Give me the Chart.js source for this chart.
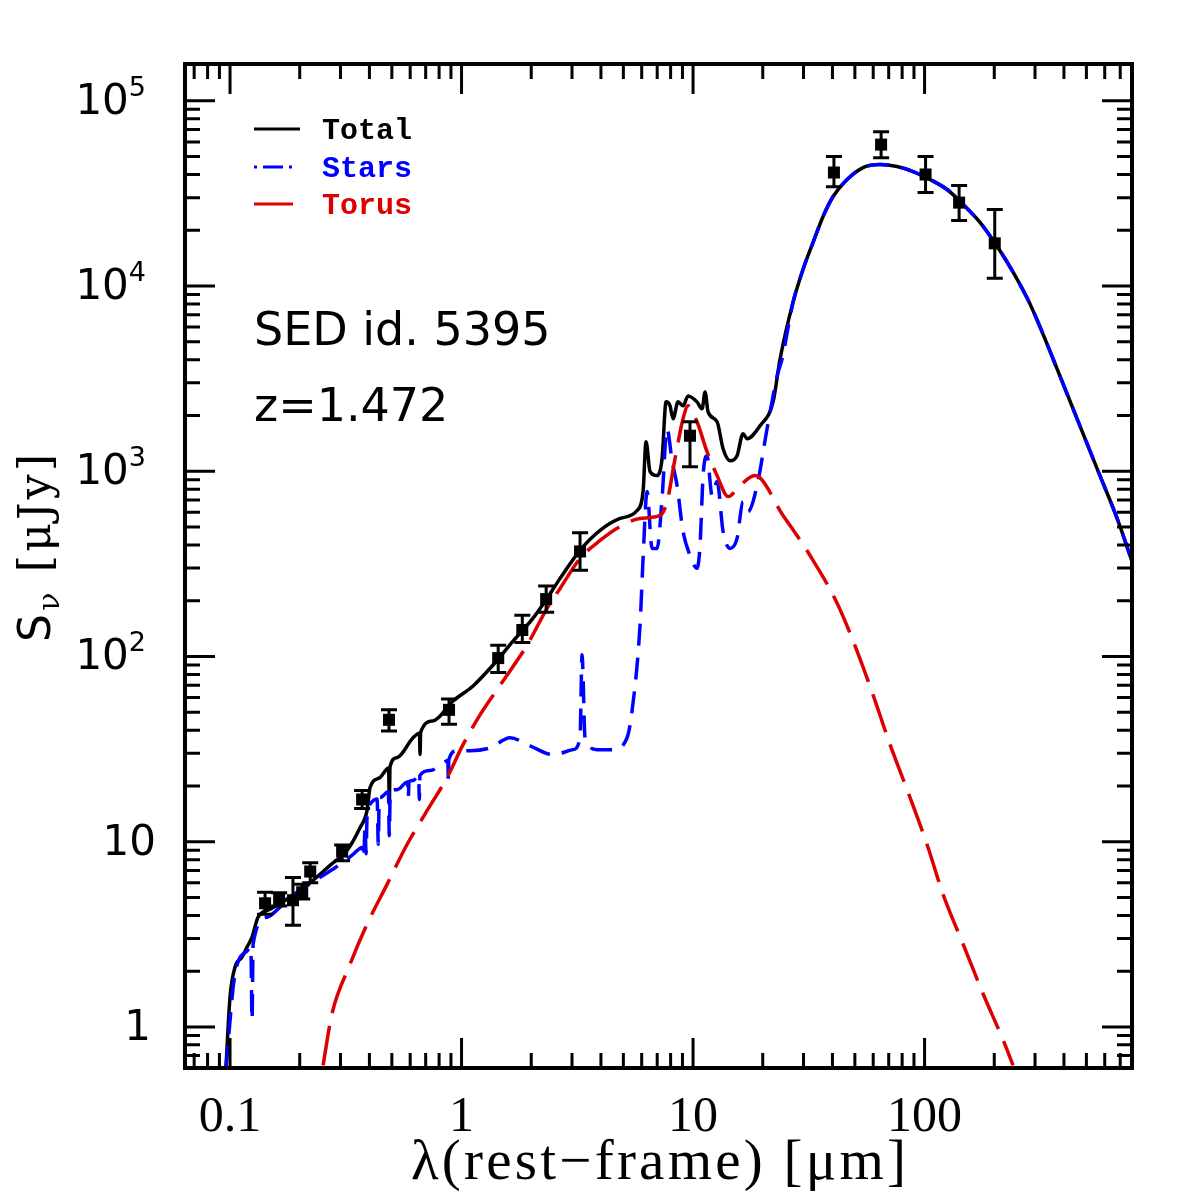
<!DOCTYPE html>
<html>
<head>
<meta charset="utf-8">
<title>SED id. 5395</title>
<script src="https://cdn.jsdelivr.net/npm/chart.js@4.4.1/dist/chart.umd.min.js"></script>
<style>
  html, body { margin: 0; padding: 0; background: #fff; }
  #sed { display: block; width: 1195px; height: 1195px; }
</style>
</head>
<body>
<canvas id="sed" width="1195" height="1195"></canvas>
<script>
// wavelength in micron (rest frame), flux in microJy
const totalLam = [0.0960, 0.1000, 0.1051, 0.1126, 0.1196, 0.1245, 0.1321, 0.1489, 0.1816, 0.2283,
  0.2704, 0.3201, 0.3643, 0.3906, 0.4025, 0.4446, 0.4840, 0.4876, 0.4910, 0.5265, 0.6172, 0.6580,
  0.6620, 0.6660, 0.7532, 0.9189, 1.121, 1.368, 1.669, 2.037, 2.341, 2.665, 3.250, 3.966, 4.837,
  5.730, 6.082, 6.266, 6.521, 6.990, 7.347, 7.645, 7.955, 8.196, 8.613, 9.053, 9.515, 10.40, 10.94,
  11.27, 11.61, 12.70, 13.48, 14.45, 15.49, 16.44, 17.12, 19.47, 22.16, 23.76, 27.04, 29.87, 33.00,
  36.44, 40.26, 46.27, 54.25, 64.24, 76.07, 89.21, 105.6, 125.1, 146.7, 173.6, 205.7, 241.2, 285.7,
  338.2, 373.6, 455.9, 556.2, 678.7, 787.4];
const totalFlux = [0.60, 1.45, 2.10, 2.38, 2.76, 3.05, 3.91, 4.32, 5.01, 6.18,
  7.45, 8.97, 11.9, 14.7, 19.6, 22.2, 25.0, 16.0, 25.4, 28.4, 36.4, 38.5,
  29.6, 39.0, 44.9, 57.5, 69.3, 89.9, 121, 161, 206, 264, 374, 479, 556,
  614, 777, 1443, 995, 947, 1169, 2369, 2255, 1919, 2369, 2255, 2552, 2369, 2173,
  2682, 2094, 1849, 1323, 1140, 1213, 1594, 1498, 1760, 2369, 4036, 8181, 12310, 17210,
  23750, 30430, 37560, 43590, 45250, 44140, 41490, 37560, 33190, 27550, 22050, 16380, 11870, 7980,
  4862, 3566, 1919, 1033, 556, 326];

const starsLam = [0.0960, 0.1051, 0.1196, 0.1230, 0.1245, 0.1258, 0.1445, 0.1644, 0.2006, 0.2447,
  0.2986, 0.3399, 0.3717, 0.3780, 0.3830, 0.3870, 0.3906, 0.4025, 0.4320, 0.4370, 0.4410, 0.4446,
  0.4830, 0.4876, 0.4920, 0.5265, 0.5850, 0.5890, 0.5930, 0.6172, 0.6530, 0.6570, 0.6610, 0.7310,
  0.8658, 0.8730, 0.8770, 0.8810, 0.9563, 1.088, 1.328, 1.620, 1.977, 2.485, 3.031, 3.250, 3.315,
  3.416, 3.849, 4.512, 5.187, 5.451, 5.903, 6.082, 6.329, 6.651, 6.990, 7.347, 7.722, 8.115, 8.528,
  9.053, 9.705, 10.40, 10.72, 11.05, 11.49, 12.08, 12.70, 13.48, 14.45, 15.49, 16.44, 17.29, 18.90,
  20.88, 23.07, 24.23, 27.04, 29.87, 33.00, 36.44, 40.26, 46.27, 54.25, 64.24, 76.07, 89.21, 105.6,
  125.1, 146.7, 173.6, 205.7, 241.2, 285.7, 338.2, 373.6, 455.9, 556.2, 678.7, 787.4];
const starsFlux = [0.60, 1.93, 2.60, 2.70, 1.09, 2.80, 3.91, 4.43, 5.46, 6.42,
  7.54, 8.53, 9.31, 8.2, 12.0, 8.6, 13.5, 15.9, 17.0, 9.7, 17.2, 17.3,
  18.6, 10.8, 18.7, 19.1, 21.0, 17.3, 21.1, 21.4, 22.6, 16.9, 22.8, 24.2,
  27.4, 27.5, 21.3, 27.7, 31.0, 31.0, 32.1, 36.4, 32.9, 29.5, 31.4, 36.4, 102,
  36.4, 31.4, 31.4, 36.4, 50.8, 148, 338, 777, 383, 383, 712, 1696, 1140, 837,
  473, 351, 299, 398, 947, 1213, 739, 879, 473, 383, 434, 686, 606, 837,
  1696, 3269, 4036, 8181, 12310, 17210, 23750, 30430, 37560, 43590, 45250, 44140, 41490, 37560,
  33190, 27550, 22050, 16380, 11870, 7980, 4862, 3566, 1919, 1033, 556, 326];

const torusLam = [0.2522, 0.2758, 0.3300, 0.3906, 0.4768, 0.5815, 0.7096, 0.8658, 1.015, 1.202,
  1.511, 1.918, 2.341, 2.665, 3.250, 3.966, 4.837, 5.903, 7.203, 7.722, 8.360, 9.053, 9.515, 10.40,
  11.49, 12.70, 14.17, 15.96, 18.50, 24.48, 32.02, 41.90, 51.10, 59.90, 70.96, 86.57,
  102.5, 120.2, 146.7, 178.9, 218.3, 241.2];
const torusFlux = [0.62, 1.18, 2.18, 3.58, 5.88, 9.66, 14.7, 22.2, 33.4, 48.4,
  73.7, 115, 182, 233, 338, 423, 503, 556, 577, 686, 1169, 1919, 2255, 1849,
  1275, 947, 730, 837, 947, 577, 351, 194, 107, 62.0, 33.4, 17.3,
  9.66, 5.20, 2.80, 1.51, 0.851, 0.62];

// photometry with error bars
const obsLam  = [0.1417, 0.163, 0.187, 0.205, 0.222, 0.305, 0.372, 0.486, 0.883, 1.44,
  1.83, 2.32, 3.25, 9.70, 40.6, 64.9, 101, 141, 201];
const obsFlux = [4.65, 4.89, 4.83, 5.33, 6.90, 8.85, 16.9, 45.5, 51.5, 98,
  139, 204, 369, 1555, 41000, 58000, 40000, 28200, 17000];
const obsLo   = [4.06, 4.50, 3.54, 4.90, 6.00, 7.90, 15.1, 39.6, 43.0, 82,
  119, 173, 292, 1059, 34400, 49300, 32000, 22600, 11000];
const obsHi   = [5.33, 5.30, 6.40, 5.90, 7.70, 9.60, 18.9, 51.5, 58.9, 115,
  167, 240, 466, 1850, 50000, 68000, 50000, 34900, 25900];

const xTickVals = [0.1, 1, 10, 100];
const xTickText = ['0.1', '1', '10', '100'];
const yTickVals = [1, 10, 100, 1000, 10000, 100000];
const yTickBase = ['1', '10', '10', '10', '10', '10'];
const yTickExp  = ['', '', '2', '3', '4', '5'];

const BLUE = '#0000ff';
const RED = '#dd0000';

function pts(lam, flux) {
  return lam.map((l, i) => ({ x: l, y: flux[i] }));
}

// draw a string char by char, stretched to a target width
function drawSpaced(ctx, parts, cx, y, target) {
  const chars = [];
  parts.forEach(p => {
    ctx.font = p.font;
    for (const c of p.t) chars.push({ c, font: p.font, dy: p.dy || 0, w: ctx.measureText(c).width });
  });
  const nat = chars.reduce((s, c) => s + c.w, 0);
  const gap = (target - nat) / (chars.length - 1);
  let x = cx - target / 2;
  ctx.textAlign = 'left';
  chars.forEach(c => {
    ctx.font = c.font;
    ctx.fillText(c.c, x, y + c.dy);
    x += c.w + gap;
  });
}

const framePlugin = {
  id: 'framePlugin',
  afterDatasetsDraw(chart) {
    const ctx = chart.ctx;
    const y = chart.scales.y;
    const meta = chart.getDatasetMeta(3);
    ctx.save();
    ctx.strokeStyle = '#000';
    ctx.lineWidth = 3;
    meta.data.forEach((el, i) => {
      const yl = y.getPixelForValue(obsLo[i]);
      const yh = y.getPixelForValue(obsHi[i]);
      ctx.beginPath();
      ctx.moveTo(el.x, yl); ctx.lineTo(el.x, yh);
      ctx.moveTo(el.x - 8, yl); ctx.lineTo(el.x + 8, yl);
      ctx.moveTo(el.x - 8, yh); ctx.lineTo(el.x + 8, yh);
      ctx.stroke();
    });
    ctx.restore();
  },
  afterDraw(chart) {
    const ctx = chart.ctx;
    const a = chart.chartArea;
    const xs = chart.scales.x, ys = chart.scales.y;
    ctx.save();
    ctx.strokeStyle = '#000';
    ctx.fillStyle = '#000';

    // inward ticks on all four sides
    ctx.lineWidth = 3;
    ctx.beginPath();
    for (let d = -2; d <= 5; d++) {
      for (let m = 1; m <= 9; m++) {
        const v = m * Math.pow(10, d);
        const len = m === 1 ? 30 : 15;
        if (v >= xs.min && v <= xs.max) {
          const px = xs.getPixelForValue(v);
          ctx.moveTo(px, a.bottom); ctx.lineTo(px, a.bottom - len);
          ctx.moveTo(px, a.top); ctx.lineTo(px, a.top + len);
        }
        if (v >= ys.min && v <= ys.max) {
          const py = ys.getPixelForValue(v);
          ctx.moveTo(a.left, py); ctx.lineTo(a.left + len, py);
          ctx.moveTo(a.right, py); ctx.lineTo(a.right - len, py);
        }
      }
    }
    ctx.stroke();
    ctx.lineWidth = 4;
    ctx.strokeRect(a.left, a.top, a.right - a.left, a.bottom - a.top);

    // y tick labels with exponents
    ctx.textBaseline = 'middle';
    yTickVals.forEach((v, i) => {
      const py = ys.getPixelForValue(v);
      let right = 150;
      if (yTickExp[i]) {
        ctx.font = '27px "DejaVu Sans"';
        ctx.textAlign = 'right';
        ctx.fillText(yTickExp[i], 146, py - 12);
        right = 146 - ctx.measureText(yTickExp[i]).width;
      }
      ctx.font = '42px "DejaVu Sans"';
      ctx.textAlign = 'right';
      ctx.fillText(yTickBase[i], yTickExp[i] ? right : (v === 1 ? 151 : 156), py + 2);
    });

    // axis titles
    ctx.textBaseline = 'alphabetic';
    drawSpaced(ctx, [{ t: 'λ(rest−frame) [μm]', font: '57px "Liberation Serif"' }], (a.left + a.right) / 2, 1179, 495);
    ctx.save();
    ctx.translate(50, 548);
    ctx.rotate(-Math.PI / 2);
    drawSpaced(ctx, [
      { t: 'S', font: '44px "DejaVu Sans"' },
      { t: 'ν', font: '30px "DejaVu Serif"', dy: 9 },
      { t: ' [μJy]', font: '44px "DejaVu Serif"' }
    ], 0, 0, 188);
    ctx.restore();

    // annotation
    ctx.textAlign = 'left';
    ctx.font = '46px "DejaVu Sans"';
    ctx.fillText('SED id. 5395', 254, 345);
    ctx.fillText('z=1.472', 254, 421);

    // legend
    const legY = [129, 167, 204];
    const legDash = [[], [3, 6, 20, 6, 3, 8], []];
    const legEnd = [300, 300, 293];
    [0, 1, 2].forEach(i => {
      const ds = chart.data.datasets[i];
      ctx.strokeStyle = ds.borderColor;
      ctx.lineWidth = 3;
      ctx.setLineDash(legDash[i]);
      ctx.beginPath();
      ctx.moveTo(254, legY[i]); ctx.lineTo(legEnd[i], legY[i]);
      ctx.stroke();
      ctx.setLineDash([]);
      ctx.fillStyle = ds.borderColor;
      ctx.font = 'bold 30px "Liberation Mono"';
      ctx.textBaseline = 'middle';
      ctx.fillText(ds.label, 322, legY[i] + 2);
    });
    ctx.restore();
  }
};

const chart = new Chart(document.getElementById('sed').getContext('2d'), {
  type: 'line',
  data: {
    datasets: [
      { label: 'Total', data: pts(totalLam, totalFlux), borderColor: '#000', borderWidth: 3.5,
        pointRadius: 0, cubicInterpolationMode: 'monotone', fill: false, order: 3 },
      { label: 'Stars', data: pts(starsLam, starsFlux), borderColor: BLUE, borderWidth: 3.5,
        borderDash: [22, 12], pointRadius: 0, cubicInterpolationMode: 'monotone', fill: false, order: 2 },
      { label: 'Torus', data: pts(torusLam, torusFlux), borderColor: RED, borderWidth: 3.5,
        borderDash: [40, 13], pointRadius: 0, cubicInterpolationMode: 'monotone', fill: false, order: 1 },
      { label: 'Data', type: 'scatter', data: pts(obsLam, obsFlux), pointStyle: 'rect',
        pointRadius: 8.5, backgroundColor: '#000', borderWidth: 0, showLine: false, order: 0 }
    ]
  },
  options: {
    responsive: false,
    animation: false,
    layout: { padding: { left: 0, top: 64, right: 63, bottom: 0 } },
    plugins: { legend: { display: false }, tooltip: { enabled: false } },
    scales: {
      x: {
        type: 'logarithmic', min: 0.0639, max: 787,
        afterFit: s => { s.height = 127; },
        afterBuildTicks: s => { s.ticks = xTickVals.map(v => ({ value: v })); },
        grid: { display: false, drawTicks: false },
        border: { display: false },
        ticks: {
          autoSkip: false, maxRotation: 0, padding: 20, color: '#000',
          font: { family: 'Liberation Serif', size: 50 },
          callback: (v, i) => xTickText[i]
        }
      },
      y: {
        type: 'logarithmic', min: 0.627, max: 158000,
        afterFit: s => { s.width = 185; },
        grid: { display: false, drawTicks: false },
        border: { display: false },
        ticks: { display: false }
      }
    }
  },
  plugins: [framePlugin]
});
</script>
</body>
</html>
